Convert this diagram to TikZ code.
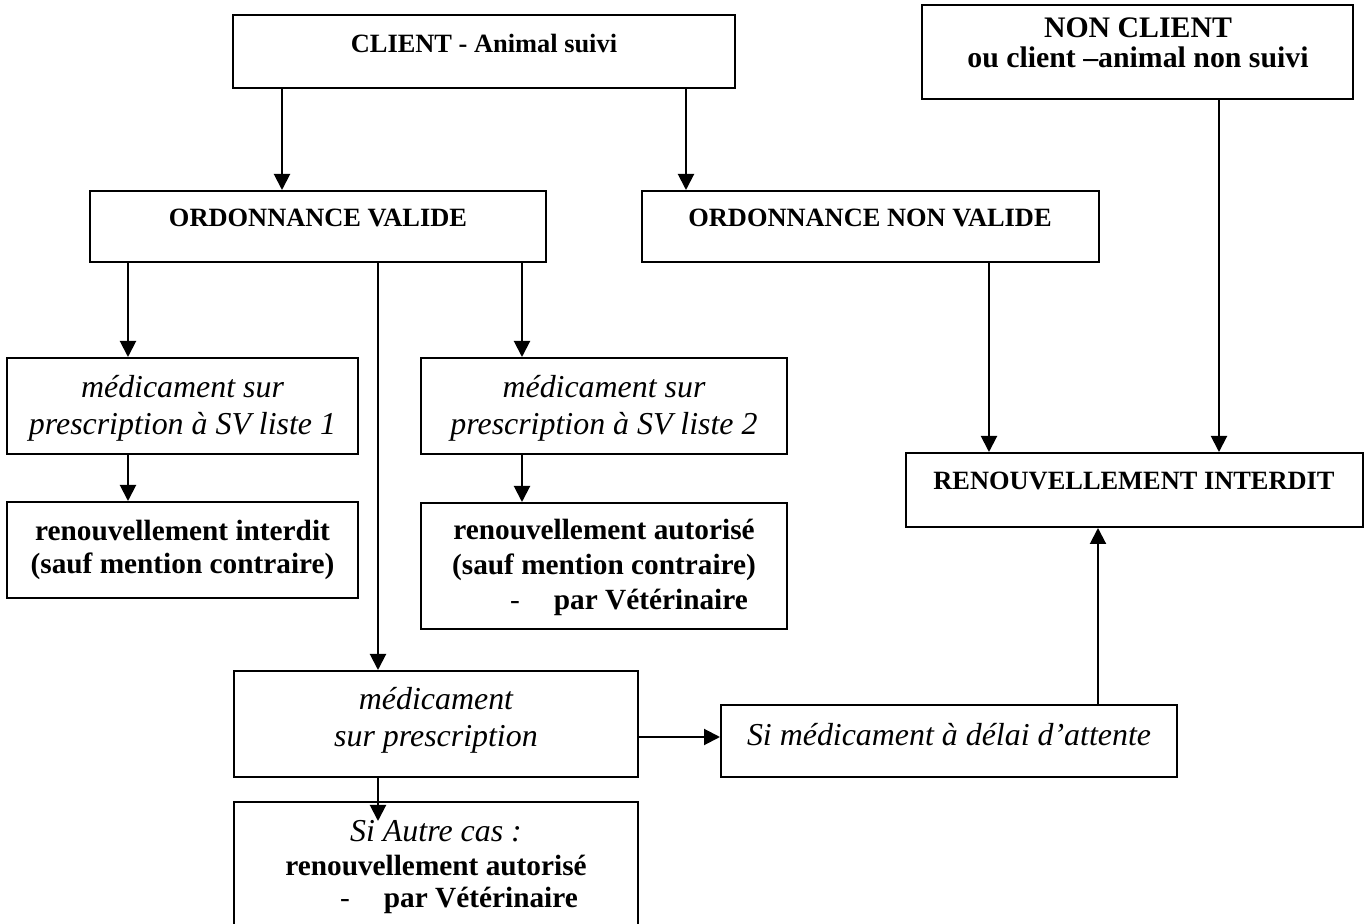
\documentclass[tikz,border=0pt]{standalone}
\usepackage{fontspec}
\setmainfont{Liberation Serif}
\usetikzlibrary{arrows.meta,fit}
\begin{document}
\begin{tikzpicture}[x=0.5pt,y=-0.5pt,
  box/.style={draw, line width=1pt, inner sep=0pt},
  arr/.style={line width=1pt, -{Triangle[length=8pt,width=8pt]}},
  hd/.style={font=\bfseries\fontsize{13.2}{15.4}\selectfont, anchor=base, inner sep=0pt, align=center},
  bd/.style={font=\bfseries\fontsize{14.65}{17}\selectfont, anchor=base, inner sep=0pt, align=center},
  ital/.style={font=\itshape\fontsize{15.95}{18.5}\selectfont, anchor=base, inner sep=0pt, align=center}]
\fill[white] (0,0) rectangle (1367,924);
\useasboundingbox (0,0) rectangle (1367,924);

% boxes
\node[box, fit={(233,15) (735,88)}] (client) {};
\node[box, fit={(922,5) (1353,99)}] (nonclient) {};
\node[box, fit={(90,191) (546,262)}] (ordv) {};
\node[box, fit={(642,191) (1099,262)}] (ordnv) {};
\node[box, fit={(7,358) (358,454)}] (liste1) {};
\node[box, fit={(421,358) (787,454)}] (liste2) {};
\node[box, fit={(7,502) (358,598)}] (rint) {};
\node[box, fit={(421,503) (787,629)}] (raut) {};
\node[box, fit={(906,453) (1363,527)}] (interdit) {};
\node[box, fit={(234,671) (638,777)}] (med) {};
\node[box, fit={(721,705) (1177,777)}] (simed) {};
\node[box, fit={(234,802) (638,960)}] (autre) {};

% texts (multi-line texts are placed by the baseline of their last line)
\node[hd] (client-t) at (484,53) {CLIENT - Animal suivi};
\node[bd, font=\bfseries\fontsize{14.9}{15}\selectfont] (nonclient-t) at (1138,68) {NON CLIENT\\ou client –animal non suivi};
\node[hd] (ordv-t) at (318,227) {ORDONNANCE VALIDE};
\node[hd] (ordnv-t) at (870,227) {ORDONNANCE NON VALIDE};
\node[ital] (liste1-t) at (182.5,435) {médicament sur\\prescription à SV liste 1};
\node[ital] (liste2-t) at (604,435) {médicament sur\\prescription à SV liste 2};
\node[bd, font=\bfseries\fontsize{14.65}{16.5}\selectfont] (rint-t) at (182.5,574) {renouvellement interdit\\(sauf mention contraire)};
\node[bd, font=\bfseries\fontsize{14.65}{17.5}\selectfont] (raut-t) at (604,610) {renouvellement autorisé\\(sauf mention contraire)\\\hspace*{25pt}{\mdseries -}\hspace{17pt}par Vétérinaire};
\node[hd] (interdit-t) at (1134,490) {RENOUVELLEMENT INTERDIT};
\node[ital] (med-t) at (436,747) {médicament\\sur prescription};
\node[ital] (simed-t) at (949,746) {Si médicament à délai d’attente};
\node[bd, font=\bfseries\fontsize{14.65}{16.5}\selectfont] (autre-t) at (436,908) {{\itshape\mdseries\fontsize{15.95}{16.5}\selectfont Si Autre cas :}\\renouvellement autorisé\\\hspace*{23pt}{\mdseries -}\hspace{17pt}par Vétérinaire};

% connector columns
\coordinate (xa) at (282,0);
\coordinate (xb) at (686,0);
\coordinate (xc) at (128,0);
\coordinate (xd) at (522,0);
\coordinate (xe) at (378,0);
\coordinate (xf) at (989,0);
\coordinate (xg) at (1219,0);
\coordinate (xh) at (1098,0);
\coordinate (ym) at (0,737);

% connectors
\draw[arr] (client.south -| xa) -- (ordv.north -| xa);
\draw[arr] (client.south -| xb) -- (ordnv.north -| xb);
\draw[arr] (ordv.south -| xc) -- (liste1.north -| xc);
\draw[arr] (ordv.south -| xd) -- (liste2.north -| xd);
\draw[arr] (liste1.south -| xc) -- (rint.north -| xc);
\draw[arr] (liste2.south -| xd) -- (raut.north -| xd);
\draw[arr] (ordv.south -| xe) -- (med.north -| xe);
\draw[arr] (ordnv.south -| xf) -- (interdit.north -| xf);
\draw[arr] (nonclient.south -| xg) -- (interdit.north -| xg);
\draw[arr] (simed.north -| xh) -- (interdit.south -| xh);
\draw[arr] (med.east |- ym) -- (simed.west |- ym);
\draw[arr] (med.south -| xe) -- ([yshift=-10pt]autre.north -| xe);
\end{tikzpicture}
\end{document}
